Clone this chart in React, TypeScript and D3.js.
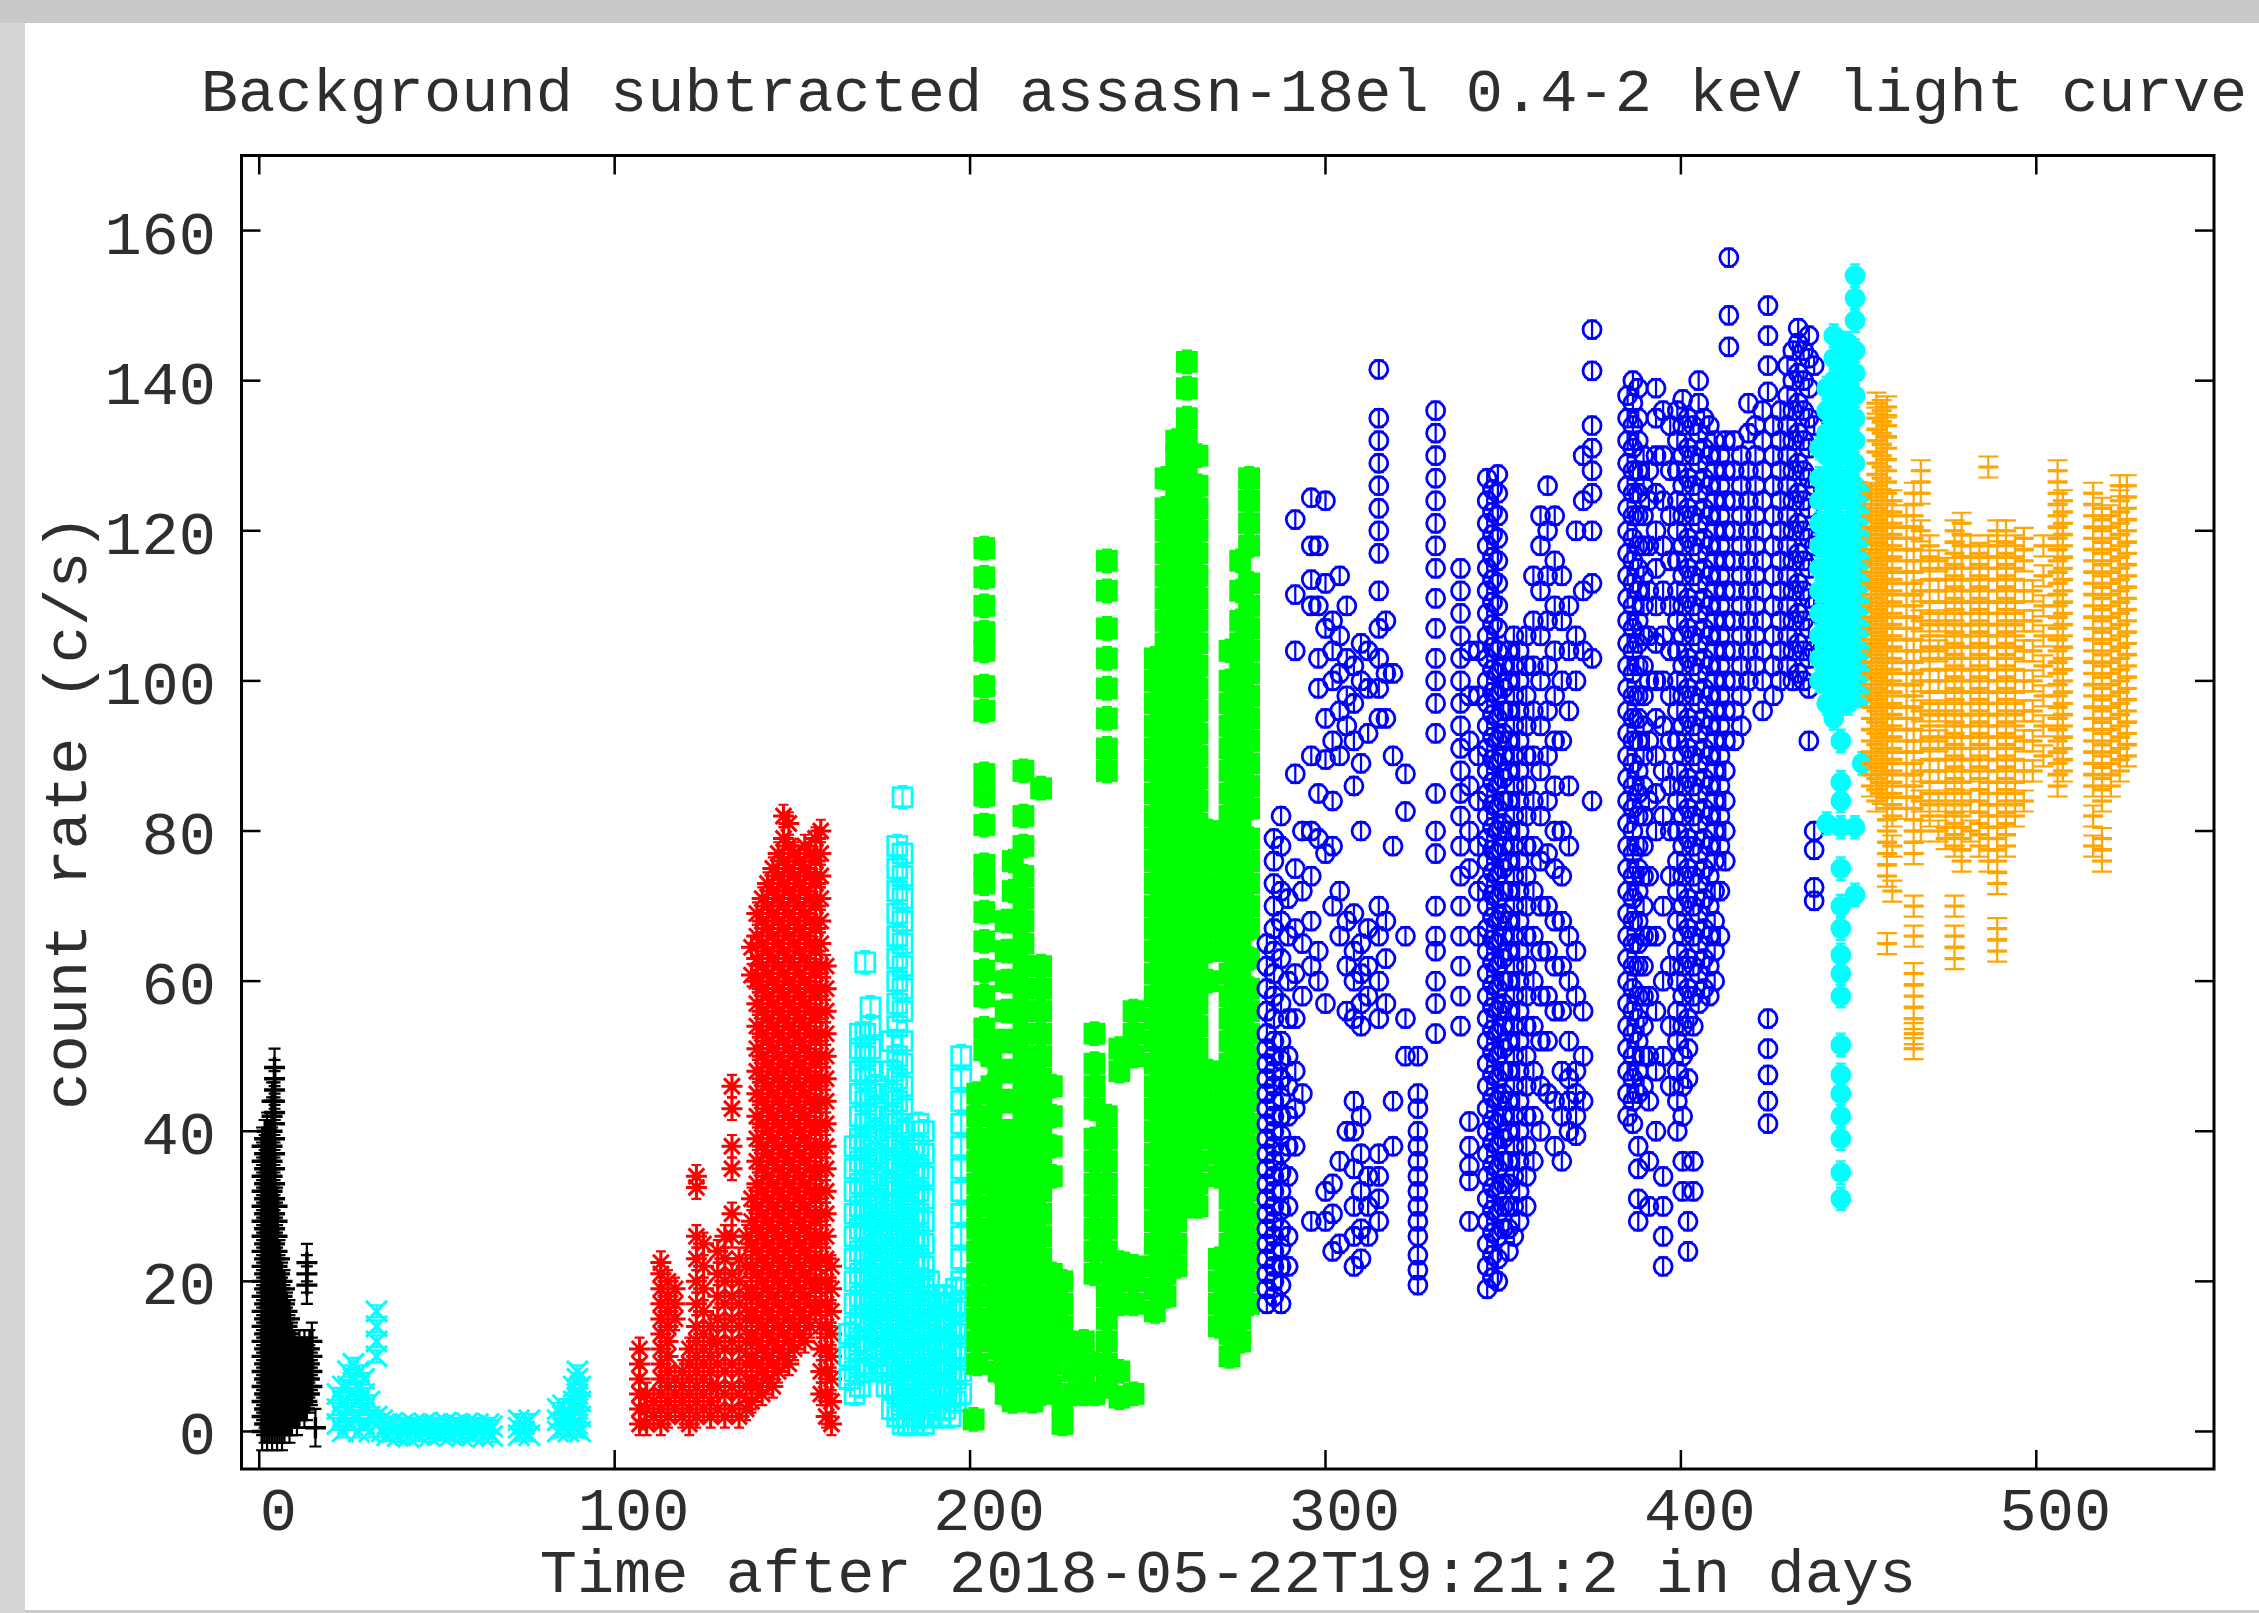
import * as d3 from "d3";
import { useEffect, useRef } from "react";

const W = 2259;
const H = 1613;
const frame = { left: 241.5, top: 155.5, right: 2214, bottom: 1469 };

const xDomain = [-5, 550];
const yDomain = [-5, 170];
const xTicks = [0, 100, 200, 300, 400, 500];
const yTicks = [0, 20, 40, 60, 80, 100, 120, 140, 160];

const title = "Background subtracted assasn-18el 0.4-2 keV light curve";
const xLabel = "Time after 2018-05-22T19:21:2 in days";
const yLabel = "count rate (c/s)";

// each row: [day, rate, rate, ...]
const blackPlus = [
  [0.8, 0, 2, 4, 6, 8, 10, 12, 14, 16, 18, 20, 22, 24, 26, 28, 30, 32, 34, 36, 38],
  [1.5, 1, 3, 5, 7, 9, 11, 13, 15, 17, 19, 21, 23, 25, 27, 29, 31, 33, 35, 37, 39],
  [2.2, 0, 2, 4, 6, 8, 10, 12, 14, 16, 18, 20, 22, 24, 26, 28, 30, 32, 34, 36, 38, 40],
  [2.9, 1, 3, 5, 7, 9, 11, 13, 15, 17, 19, 21, 23, 25, 27, 29, 31, 33, 35, 37, 39],
  [3.6, 0, 2, 4, 6, 8, 10, 12, 14, 16, 18, 20, 22, 24, 26, 28, 30, 32, 34, 36, 38, 40, 42, 44],
  [4.3, 1, 3, 5, 7, 9, 11, 13, 15, 17, 19, 21, 23, 25, 27, 29, 31, 33, 35, 37, 39, 41, 42.5, 44, 45.5, 47, 48.5],
  [5, 0, 2, 4, 6, 8, 10, 12, 14, 16, 18, 20, 22, 24, 26, 28, 30],
  [5.7, 1, 3, 5, 7, 9, 11, 13, 15, 17, 19, 21, 23],
  [6.4, 0, 2, 4, 6, 8, 10, 12, 14, 16, 18, 20],
  [7.1, 1, 3, 5, 7, 9, 11, 13, 15, 17, 19],
  [7.8, 2, 4, 6, 8, 10, 12, 14, 16],
  [8.5, 1, 3, 5, 7, 9, 11, 13, 15],
  [9.2, 2, 4, 6, 8, 10, 12],
  [9.9, 3, 5, 7, 9, 11],
  [10.6, 2, 4, 6, 8, 10],
  [11.3, 3, 5, 7, 9, 11],
  [12, 4, 6, 8, 10],
  [12.7, 3, 5, 7, 9, 11],
  [13.4, 4, 6, 8, 10, 19.5, 21, 22.5],
  [14.1, 5, 7, 9, 11],
  [14.8, 6, 8, 10, 12],
  [15.8, 0.5],
];

const cyanCross = [
  [22, 1, 3, 5], [23.5, 0, 2, 4, 6], [25, 1, 3, 6, 8], [26.5, 2, 5, 7, 9],
  [28, 0, 2, 4, 6, 8], [29.5, 1, 3, 5, 7], [31, 0, 2, 4], [33, 2, 10, 12, 14, 16],
  [34.5, 0, 1.5], [36, -0.5, 1], [37.5, 0, 1.2], [39, -0.6, 0.6], [40.5, 0, 1],
  [42, -0.7, 0.5], [43.5, 0, 1], [45, -0.5, 0.7], [46.5, 0.2, 1.1], [48, -0.6, 0.5],
  [49.5, 0, 1], [51, -0.4, 0.8], [52.5, 0, 1.2], [54, -0.5, 0.6], [55.5, 0.1, 1],
  [57, -0.6, 0.5], [58.5, 0, 1.1], [60, -0.5, 0.8], [61.5, 0, 1], [63, -0.7, 0.4],
  [64.5, 0, 1], [65.5, -0.6, 0.7], [73, -0.5, 0.5, 1.5], [74.5, 0, 1], [76, -0.5, 1.5],
  [84, 0, 1.5, 3], [85.5, 0.5, 2, 3.5], [87, 0, 2], [88.5, 0.5, 2, 4, 6], [89.5, 1, 3, 5, 7, 8], [90.3, 0, 2, 4, 6],
];

const redStar = [
  [107, 1, 3, 5, 7, 9, 11], [109, 1, 3, 5], [111, 2, 4],
  [113, 1, 3, 5, 7, 9, 11, 13, 15, 17, 19, 21, 22.5],
  [115, 2, 4, 6, 8, 10, 12, 14, 16, 18, 20], [117, 3, 5, 7, 15, 17, 19], [119, 2, 4, 6, 8],
  [121, 1, 3, 5, 7, 9, 11], [123, 2, 4, 6, 8, 10, 12, 14, 17, 20, 23, 26, 32.5, 34],
  [125, 3, 5, 7, 9, 11, 13, 16, 19, 22, 25], [127, 2, 4, 6, 8, 10, 12, 14],
  [129, 3, 6, 9, 12, 15, 18, 21, 24], [131, 2, 5, 8, 11, 14, 17, 20, 23, 26],
  [133, 3, 6, 9, 12, 15, 18, 21, 26, 29, 35, 38, 43, 46], [135, 2, 5, 8, 11, 14, 17, 20, 23],
  [137, 3, 6, 9, 12, 15, 18, 22, 26], [138.5, 4, 7, 10, 13, 16, 19, 22, 25, 28, 31, 60.8, 64.5],
  [140, 6, 9, 12, 15, 18, 21, 24, 27, 30, 33, 36, 39, 42, 45, 48, 51, 54, 57, 60, 63, 66, 69],
  [141.5, 5, 8, 11, 14, 17, 20, 23, 26, 29, 32, 35, 38, 41, 44, 47, 50, 53, 56, 59, 62, 65, 68, 71],
  [143, 7, 10, 13, 16, 19, 22, 25, 28, 31, 34, 37, 40, 43, 46, 49, 52, 55, 58, 61, 64, 67, 70, 73],
  [144.5, 6, 9, 12, 15, 18, 21, 24, 27, 30, 33, 36, 39, 42, 45, 48, 51, 54, 57, 60, 63, 66, 69, 72, 75],
  [146, 8, 11, 14, 17, 20, 23, 26, 29, 32, 35, 38, 41, 44, 47, 50, 53, 56, 59, 62, 65, 68, 71, 74, 77],
  [147.5, 10, 13, 16, 19, 22, 25, 28, 31, 34, 37, 40, 43, 46, 49, 52, 55, 58, 61, 64, 67, 70, 73, 76, 79, 82],
  [149, 9, 12, 15, 18, 21, 24, 27, 30, 33, 36, 39, 42, 45, 48, 51, 54, 57, 60, 63, 66, 69, 72, 75, 78, 81],
  [150.5, 11, 14, 17, 20, 23, 26, 29, 32, 35, 38, 41, 44, 47, 50, 53, 56, 59, 62, 65, 68, 71, 74, 77],
  [152, 13, 16, 19, 22, 25, 28, 31, 34, 37, 40, 43, 46, 49, 52, 55, 58, 61, 64, 67, 70, 73, 76],
  [153.5, 12, 15, 18, 21, 24, 27, 30, 33, 36, 39, 42, 45, 48, 51, 54, 57, 60, 63, 66, 69, 72, 75, 78],
  [155, 14, 17, 20, 23, 26, 29, 32, 35, 38, 41, 44, 47, 50, 53, 56, 59, 62, 65, 68, 71, 74, 77],
  [156.5, 16, 19, 22, 25, 28, 31, 34, 37, 40, 43, 46, 49, 52, 55, 58, 61, 64, 67, 70, 73, 76, 79],
  [158, 5, 8, 11, 14, 17, 20, 23, 26, 29, 32, 35, 38, 41, 44, 47, 50, 53, 56, 59, 62, 65, 68, 71, 74, 77, 80],
  [159.5, 2, 5, 8, 11, 14, 17, 20, 23, 26, 29, 32, 35, 38, 41, 44, 47, 50, 53, 56, 59, 62],
  [161, 1, 4, 7, 10, 13, 16, 19, 22],
];

const cyanSquare = [
  [166, 7, 10, 13],
  [167.5, 5, 8, 11, 14, 17, 20, 23, 26, 29, 32, 35, 38],
  [169, 6, 9, 12, 15, 18, 21, 24, 27, 30, 33, 36, 39, 42, 45, 48, 51, 53],
  [170.5, 8, 11, 14, 17, 20, 23, 26, 29, 32, 35, 38, 41, 44, 47, 50, 53, 62.5],
  [172, 15, 18, 21, 24, 27, 30, 33, 36, 39, 42, 45, 48, 51, 54, 56.5],
  [173.5, 10, 13, 16, 19, 22, 25, 28, 31, 34, 37, 40, 43, 46],
  [175, 8, 11, 14, 17, 20, 23, 26, 29],
  [176.5, 6, 9, 12, 15, 18, 21, 24, 27, 30, 33, 36, 39],
  [178, 3, 6, 9, 12, 15, 18, 21, 24, 27, 30, 33, 36, 39, 42, 45, 48, 52],
  [179.5, 2, 5, 8, 11, 14, 17, 20, 23, 26, 29, 32, 35, 38, 41, 44, 47, 50, 54, 57, 60, 63, 66, 69, 72, 75, 78],
  [181, 1, 4, 7, 10, 13, 16, 19, 22, 25, 28, 31, 34, 37, 40, 43, 46, 49, 52, 56, 59, 62, 65, 68, 71, 74, 77, 84.5],
  [182.5, 1, 3, 6, 9, 12, 15, 18, 21, 24, 27, 30, 33, 36],
  [184, 1, 4, 7, 10, 13, 16, 19, 22, 25, 28, 31, 34, 38],
  [185.5, 2, 5, 8, 11, 14, 17, 20, 23, 26, 29, 32, 35, 38, 41],
  [187, 1, 4, 7, 10, 13, 16, 19, 22, 25, 28, 31, 34, 37, 40],
  [188.5, 2, 5, 8, 11, 14, 17, 20],
  [190, 3, 6, 9, 12, 15, 18], [191.5, 2, 5, 8, 11, 14, 17], [193, 3, 6, 9, 12, 15, 18],
  [194.5, 2, 5, 8, 11, 14, 17], [196, 4, 7, 10, 13, 16, 19],
  [197.5, 5, 8, 11, 14, 17, 20, 23, 26, 29, 32, 35, 38, 41, 44, 47, 50],
];

const greenSquare = [
  [201, 1.6], [202, 9, 12, 15, 18, 21, 24, 27, 30, 33, 36, 39, 42, 45],
  [204, 50.8, 53.7, 58, 61.4, 65.3, 69.2, 73, 75.5, 80.8, 84.7, 87.6, 96, 99.3, 104, 106.5, 110, 113.8, 117.7],
  [206, 14, 18, 22, 26, 30, 34, 38, 42, 46, 50],
  [208, 8, 11, 14, 17, 20, 23, 26, 29, 32, 36, 40, 44, 48, 52],
  [210, 5, 8, 11, 14, 17, 20, 24, 28, 32, 36, 40, 44, 48, 52, 56, 60, 64, 68],
  [212, 4, 7, 10, 13, 16, 19, 22, 25, 28, 31, 34, 37, 40, 44, 48, 52, 56, 60, 64, 68, 72, 76],
  [215, 5, 8, 11, 14, 17, 20, 23, 26, 29, 32, 35, 38, 41, 44, 47, 50, 53, 56, 59, 62, 65, 68, 71, 74, 78, 82, 88],
  [217.5, 4, 7, 10, 13, 16, 19, 22, 25, 28, 31, 34, 37, 40, 43, 46, 49],
  [220, 5, 8, 11, 14, 17, 20, 23, 26, 29, 32, 35, 38, 41, 44, 47, 50, 53, 56, 59, 62, 85.7],
  [223, 6, 9, 12, 15, 18, 21, 34, 38, 42, 46],
  [226, 1, 3.5, 11, 14, 17, 20], [229, 5, 8, 11], [232, 5, 8, 12],
  [235, 5, 9, 21, 24, 27, 30, 33, 36, 39, 43, 46, 49, 53],
  [238.5, 6, 9, 12, 15, 18, 21, 24, 27, 30, 33, 36, 39, 42, 88, 91, 95, 99, 103, 107, 112, 116],
  [242, 4.5, 8, 17, 20, 22.5, 48, 51], [246, 5, 17, 20, 22, 50, 53, 56],
  [252, 16, 19, 22, 25, 28, 31, 34, 37, 40, 43, 46, 49, 52, 55, 58, 61, 64, 67, 70, 73, 76, 79, 82, 85, 88, 91, 94, 97, 100, 103],
  [255, 18, 21, 24, 27, 30, 33, 36, 39, 42, 45, 48, 51, 54, 57, 60, 63, 66, 69, 72, 75, 78, 81, 84, 87, 90, 93, 96, 99, 102, 105, 108, 111, 114, 117, 120, 123, 127],
  [258, 22, 25, 28, 31, 34, 37, 40, 43, 46, 49, 52, 55, 58, 61, 64, 67, 70, 73, 76, 79, 82, 85, 88, 91, 94, 97, 100, 103, 106, 109, 112, 115, 118, 121, 124, 127, 130, 132],
  [261, 30, 33, 36, 39, 42, 45, 48, 51, 54, 57, 60, 63, 66, 69, 72, 75, 78, 81, 84, 87, 90, 93, 96, 99, 102, 105, 108, 111, 114, 117, 120, 123, 126, 129, 132, 135, 139, 142.5],
  [264, 30, 33, 36, 39, 42, 45, 48, 51, 54, 57, 60, 63, 66, 69, 72, 75, 78, 81, 84, 87, 90, 93, 96, 99, 102, 105, 108, 111, 114, 117, 120, 123, 126, 130],
  [267, 40, 44, 48, 60, 64, 68, 72, 76, 80],
  [270, 14, 17, 20, 23, 34, 37, 40, 43, 47, 67, 70, 73, 76, 79],
  [273, 10, 13, 16, 19, 22, 25, 28, 31, 34, 37, 40, 43, 46, 49, 52, 55, 58, 61, 64, 67, 70, 73, 76, 79, 82, 85, 88, 91, 94, 97, 100, 104],
  [276, 12, 15, 18, 21, 24, 27, 30, 33, 36, 39, 42, 45, 48, 51, 54, 57, 60, 63, 66, 69, 72, 75, 78, 81, 84, 87, 90, 93, 96, 99, 102, 105, 108, 112, 116],
  [278.5, 17, 20, 23, 26, 29, 32, 35, 38, 41, 44, 47, 50, 53, 56, 59, 63, 67, 70, 73, 76, 79, 83, 86, 89, 92, 95, 98, 101, 104, 107, 110, 113, 118, 121, 124, 127],
];

const blueCircle = [
  [283.5, 17, 19, 21, 23, 25, 27, 29, 31, 33, 35, 37, 39, 41, 43, 45, 47, 49, 51, 53, 56, 59, 62, 65],
  [285.5, 18, 20, 22, 24, 26, 28, 30, 32, 34, 36, 38, 40, 42, 44, 46, 48, 50, 52, 55, 58, 61, 64, 67, 70, 73, 76, 79],
  [287.5, 17, 19.5, 22, 24.5, 27, 29.5, 32, 34.5, 37, 39.5, 42, 44.5, 47, 49.5, 52, 57, 63, 68, 72, 78, 82],
  [289.5, 22, 26, 30, 34, 38, 42, 46, 50, 55, 60, 66, 71],
  [291.5, 38, 43, 48, 55, 61, 67, 75, 87.6, 104, 111.5, 121.5],
  [293.5, 45, 58, 65, 72, 80],
  [296, 28, 62, 68, 74, 80, 90, 110, 113.5, 118, 124.4],
  [298, 60, 64, 79, 85, 99, 103, 110, 118],
  [300, 28, 32, 57, 77, 89.5, 95, 107, 113, 124],
  [302, 24, 29, 33, 70, 78, 84, 92, 100, 104, 108],
  [304, 25, 36, 66, 72, 90, 96, 101, 106, 114],
  [306, 40, 56, 62, 68, 94, 98, 103, 110],
  [308, 22, 26, 30, 35, 40, 44, 55, 60, 64, 69, 86, 92, 97, 102],
  [310, 23, 27, 32, 37, 42, 54, 57, 61, 65, 80, 89, 100, 105],
  [312, 26, 30, 34, 58, 62, 67, 93, 99, 104],
  [315, 28, 31, 34, 37, 55, 60, 66, 70, 95, 99, 103, 107, 112, 117, 120, 123, 126, 129, 132, 135, 141.5],
  [317, 57, 63, 68, 95, 101, 108],
  [319, 38, 44, 78, 90, 101],
  [322.5, 50, 55, 66, 82.6, 87.6],
  [326, 19.5, 21.5, 23.5, 26, 28, 30, 32, 34, 36, 38, 40, 43, 45, 50],
  [331, 53, 57, 60, 64, 66, 70, 77, 80, 85, 93, 97, 100, 103, 107, 111, 115, 118, 121, 124, 127, 130, 133, 136],
  [338, 54, 58, 62, 66, 70, 74, 78, 82, 85, 88, 91, 94, 97, 100, 103, 106, 109, 112, 115],
  [340.5, 28, 33.4, 35.4, 38, 41.3, 75, 80, 86, 92, 98, 104],
  [343, 66, 72, 78, 84, 90, 98, 104],
  [345.5, 19, 22, 25, 28, 31, 34, 37, 40, 43, 46, 49, 52, 55, 58, 61, 64, 67, 70, 73, 76, 79, 82, 85, 88, 91, 94, 97, 100, 103, 106, 109, 112, 115, 118, 121, 124, 127],
  [347, 20.5, 23.5, 26.5, 29.5, 32.5, 35.5, 38.5, 41.5, 44.5, 47.5, 50.5, 53.5, 56.5, 59.5, 62.5, 65.5, 68.5, 71.5, 74.5, 77.5, 80.5, 83.5, 86.5, 89.5, 92.5, 95.5, 98.5, 101.5, 104.5, 107.5, 110.5, 113.5, 116.5, 119.5, 122.5, 125.5],
  [348.5, 20, 23, 26, 29, 32, 35, 38, 41, 44, 47, 50, 53, 56, 59, 62, 65, 68, 71, 74, 77, 80, 83, 86, 89, 92, 95, 98, 101, 104, 107, 110, 113, 116, 119, 122, 125, 127.5],
  [350, 27, 30, 33, 36, 39, 42, 45, 48, 51, 54, 57, 60, 63, 66, 69, 72, 75, 78, 81, 84, 87, 90, 93, 96, 99, 102],
  [351.5, 24, 27, 30, 33, 36, 40, 44, 48, 52, 56, 60, 64, 68, 72, 76, 80, 84, 88, 92, 96, 100, 104],
  [353, 26, 30, 34, 38, 42, 46, 50, 54, 58, 62, 66, 70, 74, 78, 82, 86, 90, 94, 98, 102, 106],
  [354.5, 28, 32, 36, 40, 44, 48, 52, 56, 60, 64, 68, 72, 76, 80, 84, 88, 92, 96, 100, 104],
  [356.5, 30, 34, 38, 42, 46, 50, 54, 58, 62, 66, 70, 74, 78, 82, 86, 90, 94, 98, 102, 106],
  [358.5, 36, 42, 48, 54, 60, 66, 72, 78, 84, 90, 96, 102, 108, 114],
  [360.5, 40, 46, 52, 58, 64, 70, 76, 82, 88, 94, 100, 106, 112, 118, 122],
  [362.5, 45, 52, 58, 64, 70, 77, 84, 90, 96, 102, 108, 114, 120, 126],
  [364.5, 38, 44, 56, 62, 68, 75, 80, 86, 92, 98, 104, 110, 116, 122],
  [366.5, 36, 42, 48, 56, 62, 68, 74, 80, 92, 100, 108, 114],
  [368.5, 40, 44, 47, 52, 60, 66, 78, 86, 96, 104, 110],
  [370.5, 39.4, 42, 45, 48, 58, 64, 100, 106, 120],
  [372.5, 44, 50, 56, 104, 112, 124, 130],
  [375, 84, 103, 113, 120, 125, 128, 131, 134, 141.3, 146.8],
  [385, 42, 45, 48, 51, 54, 57, 60, 63, 66, 69, 72, 75, 78, 81, 84, 87, 90, 93, 96, 99, 102, 105, 108, 111, 114, 117, 120, 123, 126, 129, 132, 135, 138],
  [386.5, 41, 44, 47, 50, 53, 56, 59, 62, 65, 68, 71, 74, 77, 80, 83, 86, 89, 92, 95, 98, 101, 104, 107, 110, 113, 116, 119, 122, 125, 128, 131, 134, 137, 140],
  [388, 28, 31, 35, 38, 45, 48, 52, 55, 58, 62, 65, 68, 72, 75, 78, 82, 85, 88, 92, 95, 98, 102, 105, 108, 112, 115, 118, 122, 125, 128, 132, 135, 139],
  [389.5, 46, 50, 54, 58, 62, 66, 70, 74, 78, 82, 86, 90, 94, 98, 102, 106, 110, 114, 118, 122, 126, 130],
  [391, 30, 36, 44, 50, 58, 66, 74, 84, 92, 100, 106, 112, 118, 124, 128],
  [393, 40, 48, 56, 66, 80, 85, 90, 95, 100, 105, 110, 115, 120, 125, 130, 135, 139],
  [395, 22, 26, 30, 34, 50, 60, 70, 82, 88, 94, 100, 106, 112, 118, 124, 130, 136],
  [397, 46, 54, 62, 74, 80, 86, 92, 98, 104, 110, 116, 122, 128, 134],
  [399, 40, 44, 48, 52, 56, 60, 64, 68, 72, 76, 80, 84, 88, 92, 96, 100, 104, 108, 112, 116, 120, 124, 128, 132, 136],
  [400.5, 32, 36, 42, 46, 50, 54, 58, 62, 66, 70, 74, 78, 82, 86, 90, 94, 98, 102, 106, 110, 114, 118, 122, 126, 130, 134, 137.5],
  [402, 24, 28, 47, 51, 55, 59, 63, 67, 71, 75, 79, 83, 87, 91, 95, 99, 103, 107, 111, 115, 119, 123, 127, 131, 135],
  [403.5, 32, 36, 54, 58, 62, 66, 70, 74, 78, 82, 86, 90, 94, 98, 102, 106, 110, 114, 118, 122, 126, 130, 134],
  [405, 57, 61, 65, 69, 73, 77, 81, 85, 89, 93, 97, 101, 105, 109, 113, 117, 121, 125, 129, 133, 137, 140],
  [406.5, 59, 63, 67, 71, 75, 79, 83, 87, 91, 95, 99, 103, 107, 111, 115, 119, 123, 127, 131, 135],
  [408, 58, 62, 66, 70, 74, 78, 82, 86, 90, 94, 98, 102, 106, 110, 114, 118, 122, 126, 130, 134],
  [409.5, 60, 64, 68, 72, 76, 80, 84, 88, 92, 96, 100, 104, 108, 112, 116, 120, 124, 128, 132],
  [411, 66, 72, 78, 82, 86, 90, 94, 98, 102, 106, 110, 114, 118, 122, 126, 130],
  [412.5, 76, 80, 84, 88, 92, 96, 100, 104, 108, 112, 116, 120, 124, 128, 132],
  [413.5, 144.5, 148.7, 156.4],
  [415, 92, 96, 100, 104, 108, 112, 116, 120, 124, 128, 132],
  [417, 94, 98, 102, 106, 110, 114, 118, 122, 126, 130],
  [419, 100, 104, 108, 112, 116, 120, 124, 128, 133, 137],
  [421, 102, 106, 110, 114, 118, 122, 126, 130, 134],
  [423, 96, 100, 104, 108, 112, 116, 120, 124, 128, 132, 136],
  [424.5, 41, 44, 47.5, 51, 55, 138.5, 142, 146, 150],
  [426, 98, 102, 106, 110, 114, 118, 122, 126, 130, 134],
  [428, 100, 104, 108, 112, 116, 120, 124, 128, 132, 136],
  [430, 102, 106, 110, 114, 118, 122, 126, 130, 134, 138, 142],
  [431.5, 100, 104, 108, 112, 116, 120, 124, 128, 132, 136, 140, 144],
  [433, 101, 105, 109, 113, 117, 121, 125, 129, 133, 137, 141, 145, 147],
  [434.5, 100, 104, 108, 112, 116, 120, 124, 128, 132, 136, 140, 144],
  [436, 92, 99, 103, 107, 111, 115, 119, 123, 127, 131, 135, 139, 143, 146],
  [437.5, 70.7, 72.5, 77.5, 80, 104, 110, 118, 126, 134, 142],
];

const cyanDot = [
  [439, 100, 103, 106, 109, 112, 115, 118, 121, 124, 127, 131],
  [441, 81, 97, 100, 103, 106, 109, 112, 115, 118, 121, 124, 127, 130, 133, 136, 139],
  [443, 95, 98, 101, 104, 107, 110, 113, 116, 119, 122, 125, 128, 131, 134, 137, 140, 143, 146],
  [445, 31, 34.5, 39, 42, 45, 47.5, 51.5, 58, 61, 63.5, 67, 70, 75, 80.5, 84, 86.5, 92, 97, 100, 103, 106, 109, 112, 115, 118, 121, 124, 127, 130, 133, 136, 139, 142, 145],
  [447, 97, 100, 103, 106, 109, 112, 115, 118, 121, 124, 127, 130, 133, 136, 139, 142, 145],
  [449, 71.5, 80.5, 99, 102, 105, 108, 111, 114, 117, 120, 123, 126, 129, 132, 135, 138, 141, 144, 148, 151, 154],
  [451, 89, 98, 101, 104, 107, 110, 113, 116, 119, 122, 125],
];

const orangeBar = [
  [453.5, 86, 89, 92, 95, 98, 101, 104, 107, 110, 113, 116, 119, 122, 125],
  [455, 84, 87, 90, 93, 96, 99, 102, 105, 108, 111, 114, 117, 120, 123, 126, 129, 132, 135, 137],
  [456.5, 85, 88, 91, 94, 97, 100, 103, 106, 109, 112, 115, 118, 121, 124, 127, 130, 133, 136],
  [458, 65, 74, 77, 80, 83, 86, 89, 92, 95, 98, 101, 104, 107, 110, 113, 116, 119, 122, 125, 128, 131, 134, 136.5],
  [459.5, 72, 78, 82, 85, 88, 91, 94, 97, 100, 103, 106, 109, 112, 115, 118, 121, 124],
  [463.5, 83, 86, 89, 92, 95, 98, 101, 104, 107, 110, 113, 116, 119, 122],
  [465.5, 51, 53, 55, 58, 61, 66, 70, 77, 80, 83, 86, 89, 92, 95, 98, 101, 104, 107, 110, 113, 116, 119, 122, 125],
  [467.5, 80, 84, 88, 92, 96, 100, 104, 108, 112, 116, 120, 125, 128],
  [470, 82, 85, 88, 91, 94, 97, 100, 103, 106, 109, 112, 115, 118],
  [472.5, 80, 84, 88, 92, 96, 100, 104, 108, 112, 116],
  [474.5, 79, 82, 85, 88, 91, 94, 97, 100, 103, 106, 109, 112, 115],
  [477, 63, 66, 70, 78, 81, 84, 87, 90, 93, 96, 99, 102, 105, 108, 111, 114, 117, 120],
  [479, 76, 79, 82, 85, 88, 91, 94, 97, 100, 103, 106, 109, 112, 115, 118, 121],
  [481.5, 80, 84, 88, 91, 94, 97, 100, 103, 106, 109, 112, 115, 118],
  [484, 78, 81, 84, 87, 90, 93, 96, 99, 102, 105, 108, 111, 114, 117],
  [486.5, 76, 79, 82, 85, 88, 91, 94, 97, 100, 103, 106, 109, 112, 115, 118, 128.5],
  [489, 64, 67, 73, 76, 79, 82, 85, 88, 91, 94, 97, 100, 103, 106, 109, 112, 115, 118, 120],
  [491.5, 78, 81, 84, 87, 90, 93, 96, 99, 102, 105, 108, 111, 114, 117, 120],
  [494, 82, 85, 88, 91, 94, 97, 100, 103, 106, 109, 112, 115, 118],
  [496.5, 84, 88, 92, 96, 100, 104, 108, 112, 116, 119],
  [499, 88, 92, 96, 100, 104, 108, 112],
  [502, 90, 94, 98, 102, 106, 110, 114, 118],
  [506, 86, 89, 92, 95, 98, 101, 104, 107, 110, 113, 116, 119, 122, 125, 128],
  [507.5, 88, 91, 94, 97, 100, 103, 106, 109, 112, 115, 118, 121, 124],
  [516, 78, 82, 86, 89, 92, 95, 98, 101, 104, 107, 110, 113, 116, 119, 122, 125],
  [518.5, 76, 79, 84, 87, 90, 93, 96, 99, 102, 105, 108, 111, 114, 117, 120, 123],
  [521, 86, 89, 92, 95, 98, 101, 104, 107, 110, 113, 116, 119, 122],
  [523.5, 88, 91, 94, 97, 100, 103, 106, 109, 112, 115, 118, 121, 124, 126],
  [525.5, 90, 93, 96, 99, 102, 105, 108, 111, 114, 117, 120, 123, 126],
];

const seriesList = [
  { cols: blackPlus, color: "#000000", marker: "plus", err: 2.5, cap: 6, sw: 3.4 },
  { cols: cyanCross, color: "#00ffff", marker: "cross", err: 0.8, cap: 5, sw: 3 },
  { cols: redStar, color: "#ff0000", marker: "star", err: 1.5, cap: 5, sw: 3 },
  { cols: cyanSquare, color: "#00ffff", marker: "square", err: 1.5, cap: 5, sw: 2.8 },
  { cols: greenSquare, color: "#00ff00", marker: "squareFill", err: 1.5, cap: 5, sw: 2.8 },
  { cols: blueCircle, color: "#0000ff", marker: "circle", err: 1.2, cap: 5, sw: 2.8 },
  { cols: cyanDot, color: "#00ffff", marker: "circleFill", err: 1.5, cap: 5, sw: 2.8 },
  { cols: orangeBar, color: "#ffa500", marker: "dash", err: 1.4, cap: 10, sw: 3.2 },
];

const S = 10.5;
const markerPath: Record<string, string> = {
  plus: `M${-S},0H${S}M0,${-S}V${S}`,
  cross: `M${-S},${-S}L${S},${S}M${-S},${S}L${S},${-S}`,
  star: `M${-S},0H${S}M0,${-S}V${S}M${-S * 0.75},${-S * 0.75}L${S * 0.75},${S * 0.75}M${-S * 0.75},${S * 0.75}L${S * 0.75},${-S * 0.75}`,
  dash: `M-10,0H10`,
};

export default function App() {
  const svgRef = useRef<SVGSVGElement>(null);

  useEffect(() => {
    const svg = d3.select(svgRef.current);
    svg.selectAll("*").remove();

    const x = d3.scaleLinear().domain(xDomain).range([frame.left, frame.right]);
    const y = d3.scaleLinear().domain(yDomain).range([frame.bottom, frame.top]);
    const font = "'Liberation Mono', 'DejaVu Sans Mono', monospace";

    // page background
    svg.append("rect").attr("width", W).attr("height", H).attr("fill", "#c9c9c9");
    svg.append("rect").attr("x", 0).attr("y", 23).attr("width", 25).attr("height", H - 23).attr("fill", "#d6d6d6");
    svg.append("rect").attr("x", 25).attr("y", 23).attr("width", W - 25).attr("height", 1587).attr("fill", "#ffffff");

    svg.append("clipPath").attr("id", "plotClip")
      .append("rect")
      .attr("x", frame.left).attr("y", frame.top)
      .attr("width", frame.right - frame.left).attr("height", frame.bottom - frame.top);

    const plot = svg.append("g").attr("clip-path", "url(#plotClip)");

    seriesList.forEach((s) => {
      const pts: [number, number][] = [];
      s.cols.forEach((c) => c.slice(1).forEach((v) => pts.push([c[0], v])));
      const g = plot.append("g").attr("stroke", s.color).attr("fill", "none").attr("stroke-width", s.sw);

      // error bars
      g.selectAll("path.err")
        .data(pts)
        .join("path")
        .attr("class", "err")
        .attr("stroke-width", 2.2)
        .attr("d", (d) => {
          const px = x(d[0]);
          const y0 = y(d[1] - s.err);
          const y1 = y(d[1] + s.err);
          return `M${px},${y0}V${y1}M${px - s.cap},${y0}H${px + s.cap}M${px - s.cap},${y1}H${px + s.cap}`;
        });

      const m = g.selectAll("g.pt")
        .data(pts)
        .join("g")
        .attr("class", "pt")
        .attr("transform", (d) => `translate(${x(d[0])},${y(d[1])})`);

      if (s.marker === "square" || s.marker === "squareFill") {
        m.append("rect")
          .attr("x", -S + 1).attr("y", -S + 1)
          .attr("width", 2 * S - 2).attr("height", 2 * S - 2)
          .attr("fill", s.marker === "squareFill" ? s.color : "none");
      } else if (s.marker === "circle" || s.marker === "circleFill") {
        m.append("circle")
          .attr("r", S - 1.5)
          .attr("fill", s.marker === "circleFill" ? s.color : "none");
      } else {
        m.append("path").attr("d", markerPath[s.marker]);
      }
    });

    // frame and ticks
    const axes = svg.append("g").attr("stroke", "#000").attr("stroke-width", 2.5).attr("fill", "none");
    const tl = 19;
    xTicks.forEach((t) => {
      axes.append("line").attr("x1", x(t)).attr("x2", x(t)).attr("y1", frame.bottom).attr("y2", frame.bottom - tl);
      axes.append("line").attr("x1", x(t)).attr("x2", x(t)).attr("y1", frame.top).attr("y2", frame.top + tl);
    });
    yTicks.forEach((t) => {
      axes.append("line").attr("x1", frame.left).attr("x2", frame.left + tl).attr("y1", y(t)).attr("y2", y(t));
      axes.append("line").attr("x1", frame.right).attr("x2", frame.right - tl).attr("y1", y(t)).attr("y2", y(t));
    });
    axes.append("rect")
      .attr("x", frame.left).attr("y", frame.top)
      .attr("width", frame.right - frame.left).attr("height", frame.bottom - frame.top)
      .attr("stroke-width", 3);

    const text = svg.append("g").attr("font-family", font).attr("font-size", 62).attr("fill", "#2e2e2e");

    xTicks.forEach((t) => {
      text.append("text").attr("x", x(t) + 19).attr("y", 1530).attr("text-anchor", "middle").text(t);
    });
    yTicks.forEach((t) => {
      text.append("text").attr("x", 216).attr("y", y(t) + 23).attr("text-anchor", "end").text(t);
    });

    text.append("text").attr("x", 1224).attr("y", 111).attr("text-anchor", "middle").text(title);
    text.append("text").attr("x", 1228).attr("y", 1592).attr("text-anchor", "middle").text(xLabel);
    text.append("text")
      .attr("transform", "translate(86,812) rotate(-90)")
      .attr("text-anchor", "middle")
      .text(yLabel);
  }, []);

  return (
    <svg
      ref={svgRef}
      width={W}
      height={H}
      style={{ position: "absolute", left: 0, top: 0, display: "block" }}
    />
  );
}
